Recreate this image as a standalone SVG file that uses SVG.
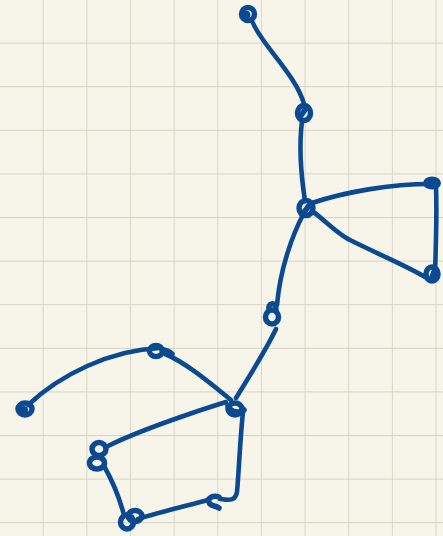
<svg xmlns="http://www.w3.org/2000/svg" width="443" height="536" viewBox="0 0 443 536">
<defs>
<pattern id="grid" x="0" y="0" width="43.65" height="43.6" patternUnits="userSpaceOnUse">
<path d="M 43.65 0 L 43.65 43.6 M 0 43.6 L 43.65 43.6" fill="none" stroke="#d6d3c2" stroke-width="1.8"/>
</pattern>
</defs>
<style>
.e{fill:none;stroke:#0b4991;stroke-width:4.6;stroke-linecap:round;stroke-linejoin:round}
.n{fill:none;stroke:#0b4991;stroke-width:5.5;stroke-linecap:round;stroke-linejoin:round}
.f{fill:#0b4991;stroke:#0b4991;stroke-width:2}
</style>
<rect width="443" height="536" fill="#f7f5ea"/>
<rect width="443" height="536" fill="url(#grid)"/>
<g id="connectors">
<path class="e" d="M 253 23 C 262 45, 296 75, 304 104"/>
<path class="e" d="M 302 121 C 299 145, 301 175, 305 201"/>
<path class="e" d="M 312 203 C 345 192, 390 184, 431 184"/>
<path class="e" d="M 436 186 C 437 215, 436 245, 435 273"/>
<path class="e" d="M 312 211 C 325 220, 338 235, 352 241 C 380 255, 405 265, 427 278"/>
<path class="e" d="M 304 213 C 292 235, 280 270, 277 305"/>
<path class="e" d="M 276 329 C 265 352, 250 375, 236 398"/>
<path class="e" d="M 231 400 C 210 383, 185 362, 165 354"/>
<path class="e" d="M 160 348 C 110 350, 60 375, 28 405"/>
<path class="e" d="M 226 402 C 200 410, 140 430, 108 446"/>
<path class="e" d="M 243 412 C 240 440, 239 470, 237 492 C 235 502, 228 500, 220 499"/>
<path class="e" d="M 104 466 C 112 480, 120 500, 124 515"/>
<path class="e" d="M 138 519 C 160 512, 190 505, 208 500"/>
</g>
<g id="node-a"><circle class="n" cx="248" cy="14" r="6.5"/><circle class="f" cx="246" cy="15" r="3.5"/></g>
<g id="node-b"><ellipse class="n" cx="304" cy="113" rx="6.5" ry="7.5"/><path class="n" d="M 300 117 L 307 107"/></g>
<g id="node-c"><ellipse class="n" cx="306" cy="208" rx="7" ry="7.5"/><path class="n" d="M 302 215 L 311 203"/></g>
<g id="node-d"><ellipse class="f" cx="432" cy="183" rx="8" ry="5.5"/></g>
<g id="node-e"><ellipse class="n" cx="432" cy="274" rx="6" ry="7"/><path class="n" d="M 431 280 L 435 269"/></g>
<g id="node-f"><ellipse class="n" cx="272" cy="317" rx="6.5" ry="7"/><path class="n" d="M 269 310 C 267 303, 276 301, 276 309"/></g>
<g id="node-g"><ellipse class="n" cx="235" cy="409" rx="7" ry="6"/><path class="n" d="M 228 406 C 232 413, 240 413, 244 410"/></g>
<g id="node-h"><ellipse class="n" cx="156" cy="351" rx="6.5" ry="5.5"/><path class="n" d="M 162 350 C 166 350, 170 352, 172 354"/></g>
<g id="node-i"><ellipse class="n" cx="25" cy="409" rx="7" ry="6"/><circle class="f" cx="24" cy="410" r="3"/></g>
<g id="node-j"><ellipse class="n" cx="99" cy="449" rx="7" ry="6.5"/><ellipse class="n" cx="97" cy="463" rx="7.5" ry="6"/></g>
<g id="node-k"><ellipse class="n" cx="127" cy="522" rx="6.5" ry="7"/><ellipse class="n" cx="135" cy="516" rx="7" ry="5.5"/></g>
<g id="node-l"><path class="n" d="M 219 497 C 213 495, 207 498, 209 502 C 210 507, 215 505, 219 508"/></g>
</svg>
